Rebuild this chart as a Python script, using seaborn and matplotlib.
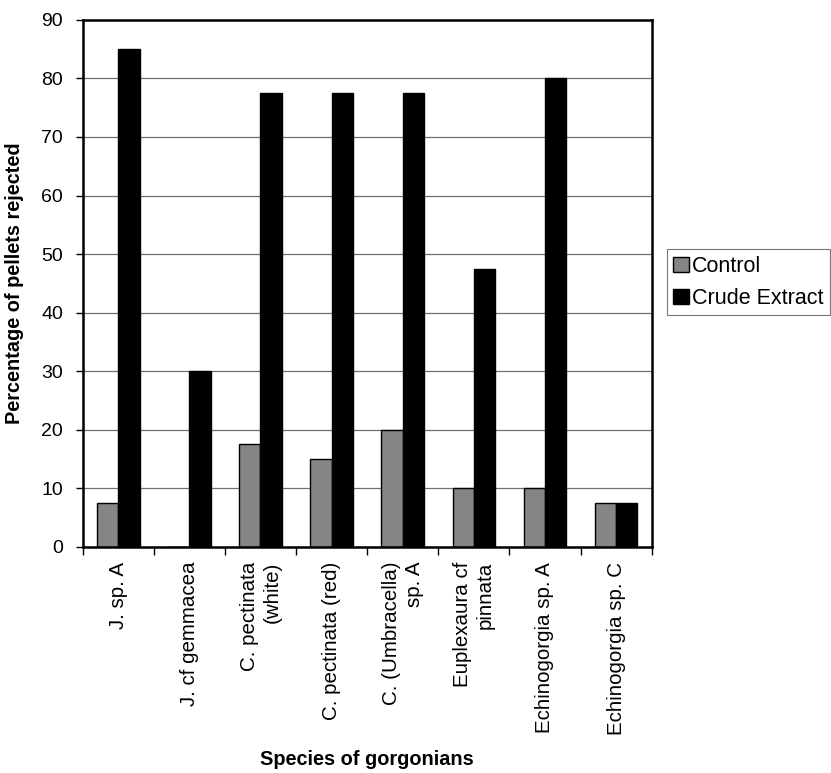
import matplotlib
matplotlib.use("Agg")
import matplotlib.pyplot as plt
from matplotlib.ticker import FixedLocator, MultipleLocator
import numpy as np
import pandas as pd
import seaborn as sns

species = [
    "J. sp. A",
    "J. cf gemmacea",
    "C. pectinata\n(white)",
    "C. pectinata (red)",
    "C. (Umbracella)\nsp. A",
    "Euplexaura cf\npinnata",
    "Echinogorgia sp. A",
    "Echinogorgia sp. C",
]
control = [7.5, 0, 17.5, 15, 20, 10, 10, 7.5]
crude_extract = [85, 30, 77.5, 77.5, 77.5, 47.5, 80, 7.5]
treatments = ["Control", "Crude Extract"]

df = pd.DataFrame({
    "species": species * 2,
    "treatment": [treatments[0]] * len(species) + [treatments[1]] * len(species),
    "value": control + crude_extract,
})

sns.set_theme(style="white")
plt.rcParams["font.family"] = ["Liberation Sans", "DejaVu Sans"]
plt.rcParams.update({
    "text.color": "black",
    "axes.labelcolor": "black",
    "xtick.color": "black",
    "ytick.color": "black",
})

fig = plt.figure(figsize=(8.31, 7.73), dpi=100)
ax = fig.add_axes([0.0995, 0.2928, 0.6847, 0.6814])

sns.barplot(
    data=df, x="species", y="value", hue="treatment",
    palette={"Control": "#858585", "Crude Extract": "#000000"},
    width=0.6, edgecolor="black", linewidth=1.0, ax=ax, saturation=1,
)

ax.set_ylim(0, 90)
ax.set_xlim(-0.5, len(species) - 0.5)
ax.yaxis.set_major_locator(MultipleLocator(10))
ax.grid(axis="y", color="#707070", linewidth=0.9)
ax.grid(axis="x", visible=False)
ax.set_axisbelow(True)

for spine in ax.spines.values():
    spine.set_visible(True)
    spine.set_color("black")
    spine.set_linewidth(1.8)

ax.tick_params(axis="y", which="major", direction="out", length=5, width=1,
               labelsize=14, pad=9, left=True)
ax.tick_params(axis="x", which="major", length=0, labelsize=14.8, pad=11)
ax.xaxis.set_minor_locator(FixedLocator(np.arange(-0.5, len(species), 1.0)))
ax.tick_params(axis="x", which="minor", direction="out", length=6, width=1,
               bottom=True)

ax.set_xticks(range(len(species)))
ax.set_xticklabels(species, rotation=90, ha="center", va="top",
                   multialignment="right", linespacing=1.25)

ax.set_xlabel("Species of gorgonians", fontsize=14.3, fontweight="bold")
ax.xaxis.set_label_coords(0.5, -0.386)
ax.set_ylabel("Percentage of pellets rejected", fontsize=14.3, fontweight="bold")
ax.yaxis.set_label_coords(-0.104, 0.5)

leg = ax.legend(
    loc="center left", bbox_to_anchor=(1.027, 0.502), frameon=True,
    fancybox=False, edgecolor="#555555", fontsize=15.5, handlelength=0.7,
    handleheight=0.7, handletextpad=0.15, borderpad=0.3, labelspacing=0.5,
    borderaxespad=0, title=None,
)
leg.get_frame().set_linewidth(0.8)

fig.savefig("out.png", dpi=100, facecolor="white")
